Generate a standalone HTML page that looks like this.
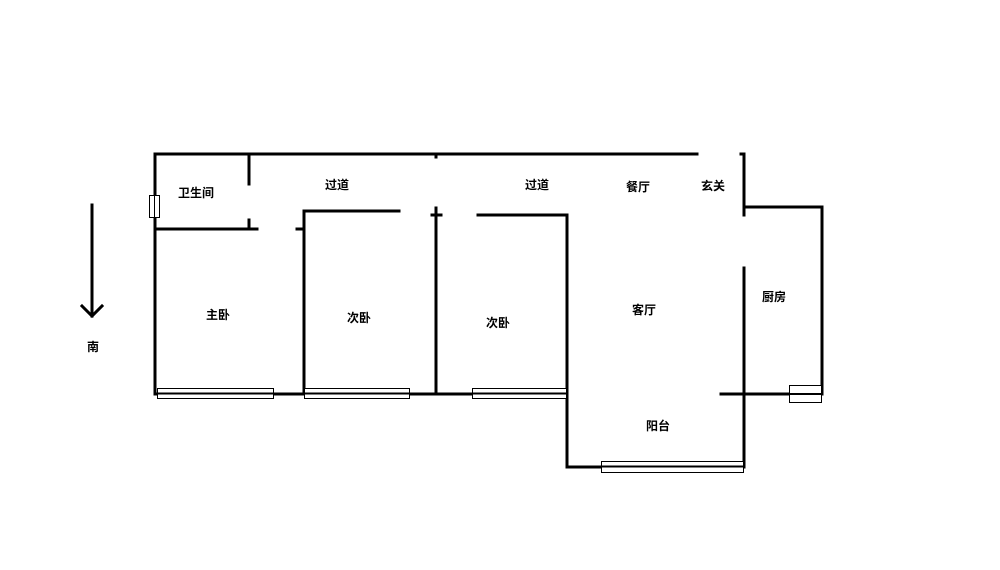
<!DOCTYPE html>
<html><head><meta charset="utf-8"><style>
html,body{margin:0;padding:0;background:#fff;}
svg text{font-family:"Liberation Sans","Noto Sans CJK SC",sans-serif;font-size:12px;font-weight:bold;fill:#000;text-anchor:middle;}
</style></head><body>
<svg width="1000" height="565" viewBox="0 0 1000 565" xmlns="http://www.w3.org/2000/svg">
<g stroke="#000" stroke-width="3" fill="none" stroke-linecap="square">
<line x1="155" y1="154" x2="697" y2="154"/>
<line x1="155" y1="154" x2="155" y2="394"/>
<line x1="249" y1="154" x2="249" y2="184"/>
<line x1="249" y1="220" x2="249" y2="228"/>
<line x1="155" y1="229" x2="257" y2="229"/>
<line x1="297" y1="229" x2="302" y2="229"/>
<line x1="304" y1="211" x2="304" y2="393"/>
<line x1="304" y1="211" x2="399" y2="211"/>
<line x1="436" y1="154" x2="436" y2="157"/>
<line x1="436" y1="208" x2="436" y2="392"/>
<line x1="432" y1="215" x2="441" y2="215"/>
<line x1="478" y1="215" x2="567" y2="215"/>
<line x1="567" y1="215" x2="567" y2="467"/>
<line x1="741" y1="154" x2="744" y2="154"/>
<line x1="744" y1="154" x2="744" y2="215"/>
<line x1="744" y1="207" x2="822" y2="207"/>
<line x1="822" y1="207" x2="822" y2="394"/>
<line x1="744" y1="268" x2="744" y2="467"/>
<line x1="155" y1="394" x2="567" y2="394"/>
<line x1="721" y1="394" x2="822" y2="394"/>
<line x1="567" y1="467" x2="744" y2="467"/>
<line x1="92" y1="205" x2="92" y2="316"/>
<polyline points="82,306 92,316 102,306"/>
</g>
<g stroke="#000" stroke-width="1" fill="#fff">
<rect x="149.5" y="195.5" width="10" height="22"/>
<line x1="154.5" y1="195.5" x2="154.5" y2="217.5"/>
<rect x="157.5" y="388.5" width="116" height="10"/>
<line x1="157.5" y1="393.5" x2="273.5" y2="393.5" stroke-width="2"/>
<rect x="304.5" y="388.5" width="105" height="10"/>
<line x1="304.5" y1="393.5" x2="409.5" y2="393.5" stroke-width="2"/>
<rect x="472.5" y="388.5" width="94" height="10"/>
<line x1="472.5" y1="393.5" x2="566.5" y2="393.5" stroke-width="2"/>
<rect x="601.5" y="461.5" width="142" height="11"/>
<line x1="601.5" y1="466.5" x2="743.5" y2="466.5" stroke-width="2"/>
<rect x="789.5" y="385.5" width="32" height="17"/>
<line x1="789.5" y1="394" x2="821.5" y2="394" stroke-width="2"/>
</g>
<text x="196" y="197">卫生间</text>
<text x="337" y="189">过道</text>
<text x="537" y="189">过道</text>
<text x="638" y="191">餐厅</text>
<text x="713" y="190">玄关</text>
<text x="218" y="319">主卧</text>
<text x="359" y="322">次卧</text>
<text x="498" y="327">次卧</text>
<text x="644" y="314">客厅</text>
<text x="774" y="301">厨房</text>
<text x="658" y="430">阳台</text>
<text x="93" y="351">南</text>
</svg>
</body></html>
